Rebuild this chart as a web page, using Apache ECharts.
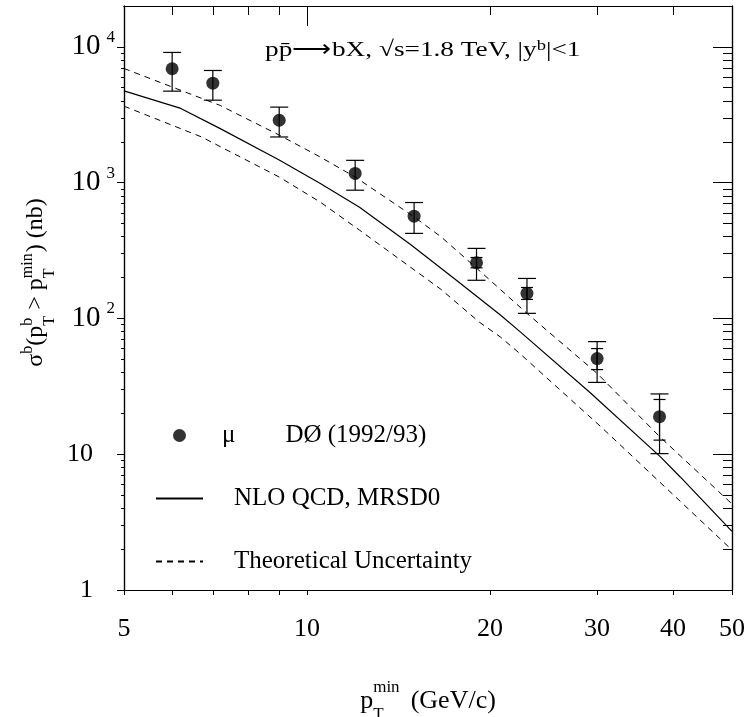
<!DOCTYPE html>
<html><head><meta charset="utf-8">
<script src="https://cdn.jsdelivr.net/npm/echarts@6/dist/echarts.min.js"></script>
<style>html,body{margin:0;padding:0;background:#fff}#c{width:748px;height:717px}</style>
</head><body><div id="c"></div>
<script>
// ---- data ----
const ptX   = [6, 7, 9, 12, 15, 19, 23, 30, 38];
const ptY   = [6900, 5400, 2880, 1170, 566, 257, 153, 50.6, 18.9];
const errHi = [9100, 6700, 3600, 1460, 714, 328, 197, 67.5, 27.8];
const errLo = [4720, 4050, 2170, 880, 423, 191, 109, 33.8, 10.1];
const statHi = [null, null, null, null, null, 281, 169, 60, 25.3];
const statLo = [null, null, null, null, null, 236, 138, 42, 12.7];

const nloX = [5, 6.2, 7.2, 9, 10.5, 12.2, 14.8, 17.5, 20.8, 22.4, 29.2, 38.1, 41.1, 50];
const nloY = [4740, 3520, 2500, 1470, 990, 660, 350, 195, 106, 80, 28.5, 9.6, 6.8, 2.7];

const upX = [5, 7.2, 9, 10.5, 12, 15, 16.6, 19, 23, 30, 38, 50];
const upY = [6930, 3700, 2240, 1550, 1100, 560, 400, 235, 109, 39.4, 13.5, 4.3];

const loX = [5, 6.7, 9, 10.5, 12.2, 16.6, 19.2, 20.8, 22.4, 30.4, 41.1, 50];
const loY = [3660, 2175, 1100, 722, 447, 164, 94, 73, 55, 16, 4.5, 1.97];

const xLabelVals = [5, 10, 20, 30, 40, 50];
const xTickVals  = [5, 6, 7, 8, 9, 10, 20, 30, 40, 50];
const xTopMinor  = [6, 7, 8, 9, 20, 30, 40];
const xTopMajor  = [10];
const yLabelVals = [1, 10, 100, 1000, 10000];
const yMinorVals = [2,3,4,5,6,7,8,9, 20,30,40,50,60,70,80,90, 200,300,400,500,600,700,800,900,
                    2000,3000,4000,5000,6000,7000,8000,9000];

const FONT = "'Liberation Serif', 'Times New Roman', serif";
const BLACK = '#000';
const CLEAR = 'rgba(0,0,0,0)';

const zip = (a, b) => a.map((v, i) => [v, b[i]]);

function barItem(hw) {
  return function (params, api) {
    const x = api.value(0);
    const lo = api.coord([x, api.value(1)]);
    const hi = api.coord([x, api.value(2)]);
    const st = { stroke: BLACK, lineWidth: 1.2 };
    return { type: 'group', children: [
      { type: 'line', shape: { x1: lo[0], y1: lo[1], x2: hi[0], y2: hi[1] }, style: st },
      { type: 'line', shape: { x1: lo[0] - hw, y1: lo[1], x2: lo[0] + hw, y2: lo[1] }, style: st },
      { type: 'line', shape: { x1: hi[0] - hw, y1: hi[1], x2: hi[0] + hw, y2: hi[1] }, style: st }
    ]};
  };
}

const statData = [];
ptX.forEach((x, i) => { if (statHi[i] != null) statData.push([x, statLo[i], statHi[i]]); });

const chart = echarts.init(document.getElementById('c'), null, { renderer: 'canvas' });

const logX = (extra) => Object.assign({
  type: 'log', logBase: 10, min: 5, max: 50, gridIndex: 0,
  splitLine: { show: false }, minorTick: { show: false },
  axisLine: { show: true, lineStyle: { color: BLACK, width: 1.2 } },
  axisLabel: { show: false }
}, extra);
const logY = (extra) => Object.assign({
  type: 'log', logBase: 10, min: 1, max: 20000, gridIndex: 0,
  splitLine: { show: false }, minorTick: { show: false },
  axisLine: { show: true, lineStyle: { color: BLACK, width: 1.2 } },
  axisLabel: { show: false }
}, extra);

const tok = (o) => Object.assign({ fontFamily: FONT, color: BLACK, align: 'left' }, o);

const option = {
  backgroundColor: '#fff',
  animation: false,
  grid: { left: 124, top: 6, width: 608, height: 584, containLabel: false, outerBoundsMode: 'none' },
  graphic: [{
    type: 'text', x: 265, y: 50, scaleX: 1.24, silent: true,
    style: {
      text: 'pp\u0304\u27f6bX, \u221As=1.8 TeV, |y{s|b}|<1',
      x: 0, y: 0, verticalAlign: 'middle', align: 'left',
      fontFamily: FONT, fontSize: 22, fill: BLACK,
      rich: {
        s: { fontFamily: FONT, fontSize: 15, fill: BLACK, verticalAlign: 'top', lineHeight: 18 }
      }
    }
  }],
  legend: {
    orient: 'vertical', left: 155, top: 423, itemWidth: 47, itemHeight: 13, itemGap: 38,
    padding: 0, selectedMode: false,
    data: [
      { name: 'D\u00d8 (1992/93)', icon: 'circle' },
      { name: 'NLO QCD, MRSD0', itemStyle: { color: CLEAR, borderColor: CLEAR, borderWidth: 0 } },
      { name: 'Theoretical Uncertainty', itemStyle: { color: CLEAR, borderColor: CLEAR, borderWidth: 0 } }
    ],
    formatter: function (name) {
      if (name.indexOf('1992') >= 0) return '{sp1|}{m|\u03bc}{g|}{t|' + name + '}';
      return '{sp2|}{t|' + name + '}';
    },
    textStyle: {
      fontFamily: FONT, fontSize: 25, color: BLACK,
      rich: {
        sp1: { width: 14 },
        sp2: { width: 26 },
        m: tok({ fontSize: 25 }),
        g: { width: 50 },
        t: tok({ fontSize: 25 })
      }
    }
  },
  xAxis: [
    logX({
      position: 'bottom',
      axisTick: { show: true, inside: false, length: 5, customValues: xTickVals, lineStyle: { color: BLACK, width: 1 } },
      axisLabel: { show: true, customValues: xLabelVals, margin: 26, fontFamily: FONT, fontSize: 26, color: BLACK },
      name: '{p|p}{sup|min}{sub|T}{t| (GeV/c)}',
      nameLocation: 'middle', nameGap: 89, nameMoveOverlap: false,
      nameTextStyle: {
        fontFamily: FONT, fontSize: 26, color: BLACK,
        rich: {
          p: tok({ fontSize: 26, lineHeight: 44, verticalAlign: 'middle' }),
          sup: tok({ fontSize: 17, lineHeight: 20, verticalAlign: 'top', width: 0 }),
          sub: tok({ fontSize: 17, lineHeight: 28, verticalAlign: 'bottom', width: 31 }),
          t: tok({ fontSize: 26, lineHeight: 44, verticalAlign: 'middle' })
        }
      }
    }),
    logX({
      position: 'top',
      axisTick: { show: true, inside: true, length: 9, customValues: xTopMinor, lineStyle: { color: BLACK, width: 1 } }
    }),
    logX({
      position: 'top',
      axisTick: { show: true, inside: true, length: 20, customValues: xTopMajor, lineStyle: { color: BLACK, width: 1 } }
    })
  ],
  yAxis: [
    logY({
      position: 'left',
      axisTick: { show: true, inside: false, length: 7, customValues: yLabelVals, lineStyle: { color: BLACK, width: 1 } },
      axisLabel: {
        show: true, customValues: yLabelVals, margin: 9,
        fontFamily: FONT, fontSize: 26, color: BLACK,
        formatter: function (v) {
          const k = Math.round(Math.log10(v));
          if (k === 0) return '{n|1}{pad|}';
          if (k === 1) return '{n|10}{pad|}';
          return '{b|10}{e|' + k + '}';
        },
        rich: {
          n: { fontFamily: FONT, fontSize: 26, color: BLACK, lineHeight: 36, verticalAlign: 'middle' },
          pad: { width: 22, lineHeight: 36 },
          b: { fontFamily: FONT, fontSize: 29, color: BLACK, lineHeight: 36, verticalAlign: 'middle' },
          e: { fontFamily: FONT, fontSize: 17, color: BLACK, lineHeight: 24, verticalAlign: 'top', padding: [0, 0, 0, 6] }
        }
      },
      name: '{m|\u03c3}{ys|b}{m|(p}{ys0|b}{sb|T}{m| > p}{ys0|min}{sbw|T}{m|) (nb)}',
      nameLocation: 'middle', nameRotate: 90, nameGap: 66, nameMoveOverlap: false,
      nameTextStyle: {
        fontFamily: FONT, fontSize: 24, color: BLACK, padding: [0, 0, 0, 31],
        rich: {
          m: tok({ fontSize: 24, lineHeight: 44, verticalAlign: 'middle' }),
          ys: tok({ fontSize: 16, verticalAlign: 'top', padding: [6, 0, 0, 0] }),
          ys0: tok({ fontSize: 16, verticalAlign: 'top', padding: [6, 0, 0, 0], width: 0 }),
          sb: tok({ fontSize: 16, lineHeight: 30, verticalAlign: 'bottom', width: 10 }),
          sbw: tok({ fontSize: 16, lineHeight: 30, verticalAlign: 'bottom', width: 26 })
        }
      }
    }),
    logY({
      position: 'right',
      axisTick: { show: true, inside: true, length: 19, customValues: yLabelVals, lineStyle: { color: BLACK, width: 1 } }
    }),
    logY({
      position: 'right',
      axisTick: { show: true, inside: true, length: 9, customValues: yMinorVals, lineStyle: { color: BLACK, width: 1 } }
    }),
    logY({
      position: 'left',
      axisTick: { show: true, inside: false, length: 3, customValues: yMinorVals, lineStyle: { color: BLACK, width: 1 } }
    })
  ],
  series: [
    {
      name: 'NLO QCD, MRSD0', type: 'line', xAxisIndex: 0, yAxisIndex: 0,
      data: zip(nloX, nloY), symbol: 'none', smooth: false, clip: true,
      lineStyle: { color: BLACK, width: 1.2, type: 'solid' }, itemStyle: { color: BLACK }
    },
    {
      name: 'Theoretical Uncertainty', type: 'line', xAxisIndex: 0, yAxisIndex: 0,
      data: zip(upX, upY), symbol: 'none', clip: true,
      lineStyle: { color: BLACK, width: 1, type: [6, 5] }, itemStyle: { color: BLACK }
    },
    {
      name: 'Theoretical Uncertainty', type: 'line', xAxisIndex: 0, yAxisIndex: 0,
      data: zip(loX, loY), symbol: 'none', clip: true,
      lineStyle: { color: BLACK, width: 1, type: [6, 5] }, itemStyle: { color: BLACK }
    },
    {
      name: 'errors', type: 'custom', xAxisIndex: 0, yAxisIndex: 0,
      data: ptX.map((x, i) => [x, errLo[i], errHi[i]]),
      encode: { x: 0, y: [1, 2] }, renderItem: barItem(9), z: 3
    },
    {
      name: 'stat', type: 'custom', xAxisIndex: 0, yAxisIndex: 0,
      data: statData, encode: { x: 0, y: [1, 2] }, renderItem: barItem(6), z: 3
    },
    {
      name: 'D\u00d8 (1992/93)', type: 'scatter', xAxisIndex: 0, yAxisIndex: 0,
      data: zip(ptX, ptY), symbol: 'circle', symbolSize: 13,
      itemStyle: { color: BLACK }, z: 4
    }
  ]
};
chart.setOption(option);
</script>
</body></html>
